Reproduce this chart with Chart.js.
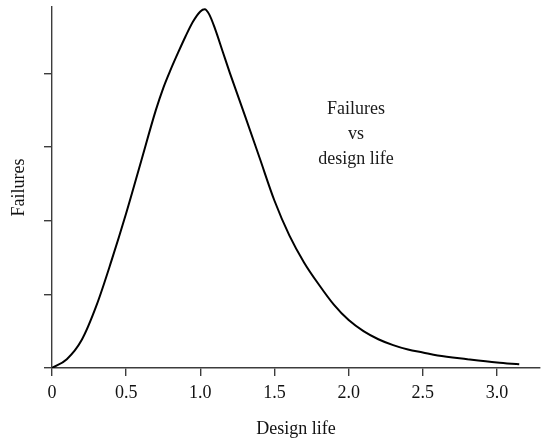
<!DOCTYPE html>
<html>
<head>
<meta charset="utf-8">
<script src="https://cdn.jsdelivr.net/npm/chart.js@4.4.0/dist/chart.umd.min.js"></script>
<style>
  html, body { margin: 0; padding: 0; background: #fff; }
  #wrap { width: 541px; height: 440px; }
</style>
</head>
<body>
<div id="wrap"><canvas id="failuresChart"></canvas></div>
<script>
  // design life (x) and relative failures (y)
  const designLife = [0, 0.1, 0.2, 0.3, 0.4, 0.5, 0.6, 0.7, 0.75, 0.8, 0.85, 0.9, 0.95, 1.0, 1.03, 1.06, 1.1, 1.15, 1.2, 1.3, 1.4, 1.5, 1.6, 1.7, 1.8, 1.9, 2.0, 2.1, 2.2, 2.3, 2.4, 2.5, 2.6, 2.8, 3.0, 3.15];
  const failures = [0, 0.12, 0.38, 0.85, 1.45, 2.10, 2.80, 3.50, 3.80, 4.05, 4.28, 4.50, 4.70, 4.84, 4.87, 4.80, 4.60, 4.30, 4.00, 3.43, 2.85, 2.27, 1.80, 1.43, 1.13, 0.86, 0.65, 0.50, 0.39, 0.31, 0.25, 0.21, 0.17, 0.12, 0.075, 0.05];

  // tick values
  const xTicks = [0, 0.5, 1.0, 1.5, 2.0, 2.5, 3.0];
  const yTicks = [0, 1, 2, 3, 4];

  // label inside the plot, in data coordinates
  const noteLines = ['Failures', 'vs', 'design life'];
  const notePos = { x: 2.05, y: 3.45 };

  const serif = '"Liberation Serif", "Times New Roman", serif';
  const axisColor = '#3c3c3c';

  // draws the text block in the middle of the plot
  const notePlugin = {
    id: 'note',
    afterDatasetsDraw(chart) {
      const ctx = chart.ctx;
      const px = chart.scales.x.getPixelForValue(notePos.x);
      const py = chart.scales.y.getPixelForValue(notePos.y);
      ctx.save();
      ctx.font = '18px ' + serif;
      ctx.fillStyle = '#1a1a1a';
      ctx.textAlign = 'center';
      ctx.textBaseline = 'alphabetic';
      noteLines.forEach((line, i) => {
        ctx.fillText(line, px, py + i * 25);
      });
      ctx.restore();
    }
  };

  const points = designLife.map((x, i) => ({ x: x, y: failures[i] }));

  new Chart(document.getElementById('failuresChart'), {
    type: 'line',
    data: {
      datasets: [{
        label: 'Failures',
        data: points,
        borderColor: '#000',
        borderWidth: 2,
        pointRadius: 0,
        fill: false,
        cubicInterpolationMode: 'monotone'
      }]
    },
    options: {
      responsive: true,
      maintainAspectRatio: false,
      animation: false,
      layout: { padding: { top: 7, right: 1, left: 0, bottom: 0 } },
      plugins: {
        legend: { display: false },
        tooltip: { enabled: false }
      },
      scales: {
        x: {
          type: 'linear',
          min: 0,
          max: 3.29,
          afterBuildTicks: (scale) => { scale.ticks = xTicks.map(v => ({ value: v })); },
          afterFit: (scale) => { scale.height = 72; },
          border: { color: axisColor, width: 1.4 },
          grid: { drawOnChartArea: false, drawTicks: true, tickLength: 8, color: axisColor, lineWidth: 1.4 },
          ticks: {
            padding: 6,
            color: '#111',
            font: { family: serif, size: 18 },
            maxRotation: 0,
            callback: (v) => v === 0 ? '0' : v.toFixed(1)
          },
          title: {
            display: true,
            text: 'Design life',
            color: '#111',
            font: { family: serif, size: 18 },
            padding: { top: 3.5, bottom: 0 }
          }
        },
        y: {
          min: 0,
          max: 4.9,
          afterBuildTicks: (scale) => { scale.ticks = yTicks.map(v => ({ value: v })); },
          afterFit: (scale) => { scale.width = 52; },
          border: { color: axisColor, width: 1.4 },
          grid: { drawOnChartArea: false, drawTicks: true, tickLength: 8, color: axisColor, lineWidth: 1.4 },
          ticks: { display: false },
          title: {
            display: true,
            text: 'Failures',
            color: '#111',
            font: { family: serif, size: 18 },
            padding: { top: 8, bottom: 0 }
          }
        }
      }
    },
    plugins: [notePlugin]
  });
</script>
</body>
</html>
